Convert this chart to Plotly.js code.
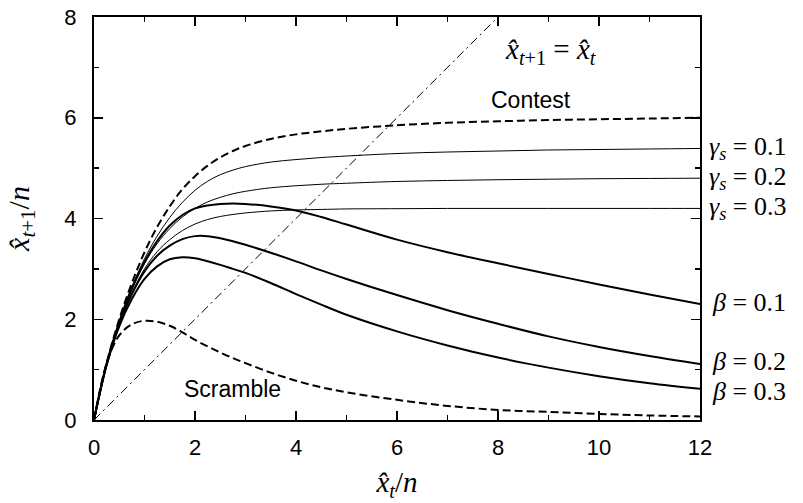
<!DOCTYPE html>
<html>
<head>
<meta charset="utf-8">
<script src="https://cdn.plot.ly/plotly-3.0.1.min.js"></script>
<style>html,body{margin:0;padding:0;background:#fff;}#chart{width:803px;height:503px;}</style>
</head>
<body>
<div id="chart"></div>
<script>
// x grid (x̂_t / n)
var xValues  = [0, 0.25, 0.5, 0.75, 1, 1.25, 1.5, 1.75, 2, 2.25, 2.5, 2.75, 3, 3.5, 4, 4.5, 5, 6, 7, 8, 9, 10, 11, 12];
// series
var contest  = [0, 1.13, 2.00, 2.72, 3.33, 3.83, 4.24, 4.58, 4.84, 5.05, 5.21, 5.34, 5.44, 5.58, 5.67, 5.73, 5.78, 5.85, 5.90, 5.93, 5.955, 5.97, 5.985, 6.00];
var gamma01  = [0, 1.12, 1.96, 2.64, 3.20, 3.65, 4.02, 4.32, 4.56, 4.74, 4.87, 4.96, 5.03, 5.12, 5.17, 5.21, 5.24, 5.29, 5.32, 5.34, 5.36, 5.37, 5.38, 5.39];
var gamma02  = [0, 1.11, 1.93, 2.58, 3.10, 3.50, 3.80, 4.03, 4.20, 4.33, 4.42, 4.49, 4.54, 4.61, 4.65, 4.68, 4.70, 4.735, 4.755, 4.77, 4.78, 4.79, 4.795, 4.80];
var gamma03  = [0, 1.10, 1.90, 2.52, 3.00, 3.34, 3.58, 3.76, 3.89, 3.98, 4.04, 4.08, 4.11, 4.15, 4.17, 4.18, 4.19, 4.195, 4.20, 4.20, 4.20, 4.20, 4.20, 4.20];
var beta01   = [0, 1.12, 1.95, 2.62, 3.14, 3.55, 3.86, 4.07, 4.20, 4.26, 4.29, 4.30, 4.29, 4.24, 4.16, 4.03, 3.88, 3.58, 3.33, 3.11, 2.90, 2.69, 2.49, 2.30];
var beta02   = [0, 1.10, 1.90, 2.50, 2.95, 3.26, 3.46, 3.59, 3.65, 3.65, 3.61, 3.55, 3.48, 3.32, 3.15, 2.97, 2.80, 2.48, 2.18, 1.91, 1.66, 1.45, 1.27, 1.11];
var beta03   = [0, 1.09, 1.86, 2.40, 2.80, 3.05, 3.19, 3.23, 3.21, 3.15, 3.08, 3.00, 2.92, 2.72, 2.50, 2.29, 2.09, 1.76, 1.48, 1.24, 1.04, 0.87, 0.73, 0.62];
var scramble = [0, 1.12, 1.68, 1.90, 1.97, 1.95, 1.87, 1.74, 1.59, 1.46, 1.34, 1.23, 1.13, 0.94, 0.78, 0.65, 0.55, 0.40, 0.28, 0.20, 0.16, 0.12, 0.09, 0.07];
// identity line x̂_{t+1} = x̂_t
var diagX = [0, 8];
var diagY = [0, 8];
// ticks
var xTickVals  = [0, 2, 4, 6, 8, 10, 12];
var xMinorVals = [1, 3, 5, 7, 9, 11];
var yTickVals  = [0, 2, 4, 6, 8];
var yMinorVals = [1, 3, 5, 7];
// labels
var gammaLabels = ["0.1", "0.2", "0.3"];
var betaLabels  = ["0.1", "0.2", "0.3"];
var gammaLabelY = [5.39, 4.80, 4.20];
var betaLabelY  = [2.34, 1.17, 0.56];

function curve(y, width, dash) {
  return {x: xValues, y: y, type: 'scatter', mode: 'lines',
          line: {color: '#000', width: width, dash: dash || 'solid', shape: 'spline', smoothing: 1},
          hoverinfo: 'skip', showlegend: false};
}

var traces = [
  {x: diagX, y: diagY, type: 'scatter', mode: 'lines', line: {color: '#000', width: 1, dash: '9px,4px,2px,4px'}, showlegend: false},
  curve(contest, 2, '8px,4px'),
  curve(gamma01, 1),
  curve(gamma02, 1),
  curve(gamma03, 1),
  curve(beta01, 2),
  curve(beta02, 2),
  curve(beta03, 2),
  curve(scramble, 2, '8px,4px')
];

var serif = 'Liberation Serif, DejaVu Serif, serif';
var sans = 'Liberation Sans, Arial, sans-serif';

var annotations = [
  {x: 9.05, y: 7.32, xref: 'x', yref: 'y', text: '<i>x̂</i><sub><i>t</i>+1</sub> = <i>x̂</i><sub><i>t</i></sub>', showarrow: false, font: {family: serif, size: 29, color: '#000'}},
  {x: 8.65, y: 6.35, xref: 'x', yref: 'y', text: 'Contest', showarrow: false, font: {family: sans, size: 23, color: '#000'}},
  {x: 2.75, y: 0.62, xref: 'x', yref: 'y', text: 'Scramble', showarrow: false, font: {family: sans, size: 23, color: '#000'}}
];
for (var i = 0; i < gammaLabels.length; i++) {
  annotations.push({x: 1, xref: 'paper', y: gammaLabelY[i], yref: 'y', xanchor: 'left', xshift: 7,
    text: '<i>γ</i><sub><i>s</i></sub> = ' + gammaLabels[i], showarrow: false,
    font: {family: serif, size: 26, color: '#000'}});
}
for (var j = 0; j < betaLabels.length; j++) {
  annotations.push({x: 1, xref: 'paper', y: betaLabelY[j], yref: 'y', xanchor: 'left', xshift: 10,
    text: '<i>β</i> = ' + betaLabels[j], showarrow: false,
    font: {family: serif, size: 26, color: '#000'}});
}

var axisCommon = {
  showgrid: false, zeroline: false, showline: true, linecolor: '#000', linewidth: 2,
  mirror: 'ticks', ticks: 'inside', ticklen: 9, tickwidth: 1.5, tickcolor: '#000',
  tickfont: {family: sans, size: 22, color: '#000'}
};

var layout = {
  width: 803, height: 503,
  margin: {l: 94, r: 103, t: 17, b: 83, pad: 0},
  paper_bgcolor: '#fff', plot_bgcolor: '#fff',
  showlegend: false,
  xaxis: Object.assign({}, axisCommon, {
    range: [0, 12], tickmode: 'array', tickvals: xTickVals, ticktext: xTickVals.map(String),
    ticklabelstandoff: 7,
    minor: {tickmode: 'array', tickvals: xMinorVals, ticks: 'inside', ticklen: 5, tickwidth: 1.5, tickcolor: '#000'},
    title: {text: '<i>x̂</i><sub><i>t</i></sub>/<i>n</i>', font: {family: serif, size: 29, color: '#000'}, standoff: 12}
  }),
  yaxis: Object.assign({}, axisCommon, {
    range: [0, 8], tickmode: 'array', tickvals: yTickVals, ticktext: yTickVals.map(String),
    ticklabelstandoff: 11,
    minor: {tickmode: 'array', tickvals: yMinorVals, ticks: 'inside', ticklen: 5, tickwidth: 1.5, tickcolor: '#000'},
    title: {text: '<i>x̂</i><sub><i>t</i>+1</sub>/<i>n</i>', font: {family: serif, size: 30, color: '#000'}, standoff: 26}
  }),
  annotations: annotations
};

Plotly.newPlot('chart', traces, layout, {staticPlot: true, displayModeBar: false});
</script>
</body>
</html>
